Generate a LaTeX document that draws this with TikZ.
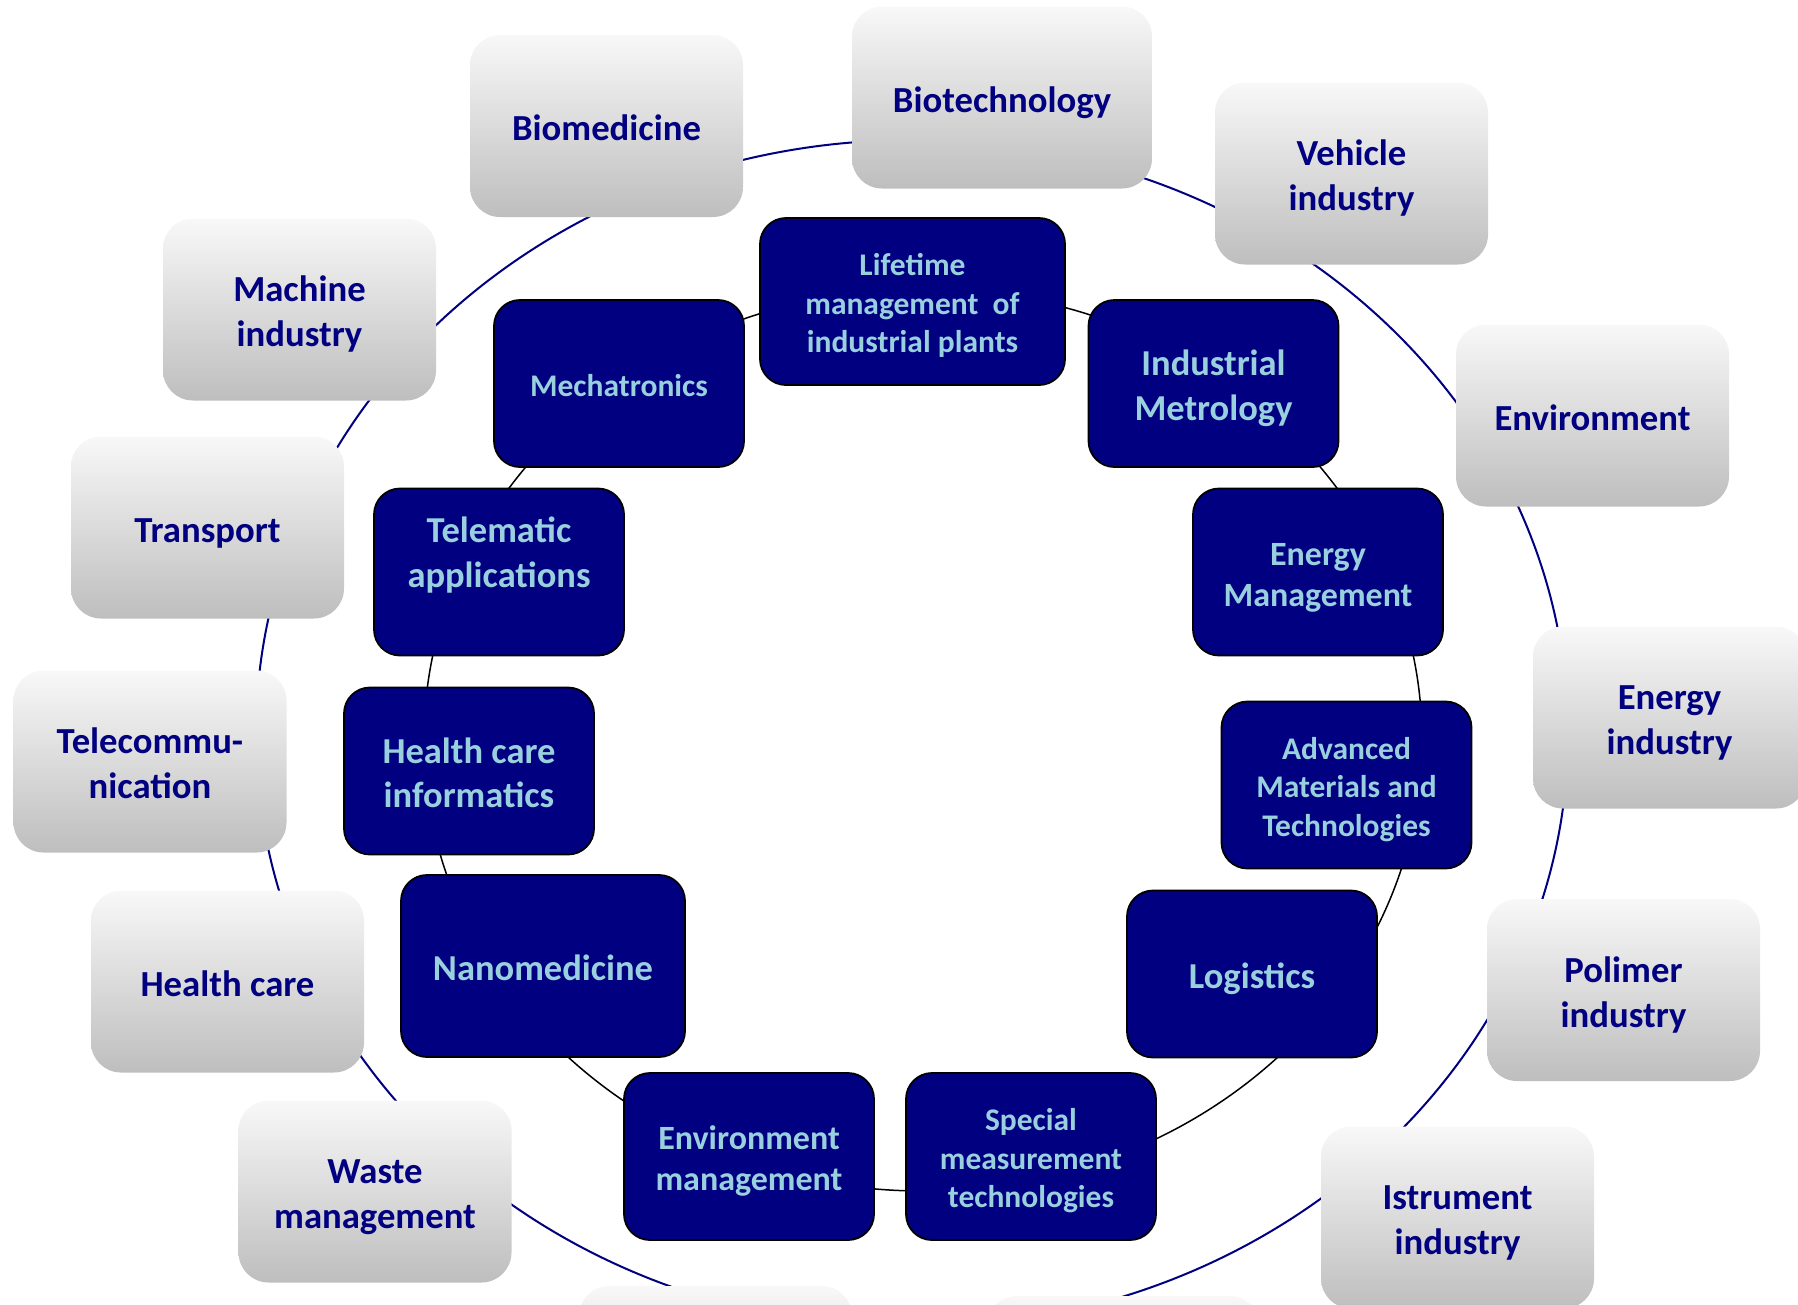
\documentclass[tikz,border=0pt]{standalone}
\usepackage{fontspec}
\setmainfont{Carlito}
\definecolor{navyblue}{RGB}{0,0,128}
\definecolor{paleblue}{RGB}{153,208,222}
\definecolor{greytop}{RGB}{248,248,248}
\definecolor{greybot}{RGB}{190,190,190}
\begin{document}
\begin{tikzpicture}[x=1pt, y=-1pt,
 block/.code args = {#1/#2/#3}{%
      \pgfmathsetlengthmacro\blockht{1.07*#1+(#3-1)*#2}%
      \pgfmathsetlengthmacro\blockdp{0.269*#1}%
      \tikzset{text height=\blockht, text depth=\blockdp}},
 field/.style = {%
      rounded corners=30pt, top color=greytop, bottom color=greybot,
      minimum width=273pt, minimum height=182pt, text=navyblue,
      align=center, font=\fontsize{36.7}{44.8}\selectfont\bfseries,
      block=36.7/44.8/#1},
 field/.default = 2,
 skill/.style args = {#1/#2/#3}{%
      rounded corners=26pt, draw=black, line width=1.8pt, fill=navyblue,
      text=paleblue, minimum width=250pt, minimum height=167pt,
      align=center, font=\fontsize{#1}{#2}\selectfont\bfseries,
      block=#1/#2/#3}
                    ]
\useasboundingbox (0,0) rectangle (1798,1304);
\coordinate (outerhub) at (912,734);
\coordinate (innerhub) at (923,740);
\draw[navyblue, line width=2pt] (outerhub) ellipse [x radius=656pt, y radius=594pt];
\draw[black, line width=1.5pt] (innerhub) ellipse [x radius=499pt, y radius=451pt];
%
\node(biotech)  [field=1, minimum width=300pt] at (1002,97.5) {Biotechnology};
\node(biomed)   [field=1] at (606.5,126)   {Biomedicine};
\node(vehicle)  [field] at (1351.5,173.5)  {Vehicle\\industry};
\node(machine)  [field] at (299.5,309.5)   {Machine\\industry};
\node(environ)  [field=1] at (1592.5,415.5) {Environment};
\node(transp)   [field=1] at (207.5,527.5) {Transport};
\node(energyind)[field] at (1669.5,717.5)  {Energy\\industry};
\node(telecom)  [field] at (150,761.5)     {Telecommu-\\nication};
\node(polimer)  [field] at (1623.5,990)    {Polimer\\industry};
\node(health)   [field=1] at (227.5,981.5) {Health care};
\node(istrum)   [field] at (1457.5,1217.5) {Istrument\\industry};
\node(waste)    [field] at (375,1191.5)    {Waste\\management};
\node(blankA)   [field=1] at (715.5,1377)  {};
\node(blankB)   [field=1] at (1123.5,1387) {};
%
\node(lifetime) [skill=31.5/38.4/3, minimum width=305pt] at (912.5,301.5)
      {Lifetime\\management\ \ of\\industrial plants};
\node(mechatr)  [skill=31.5/38.4/1] at (619,383.5)    {Mechatronics};
\node(metrol)   [skill=36.5/44.5/2] at (1213.5,383.5) {Industrial\\Metrology};
\node(telemat)  [skill=36.5/44.5/2, text depth=53pt] at (499,572) {Telematic\\applications};
\node(energymg) [skill=34/41/2]     at (1318,572)     {Energy\\Management};
\node(hcinfo)   [skill=36.5/44.5/2] at (469,771)      {Health care\\informatics};
\node(advmat)   [skill=31.5/38.4/3] at (1346.5,785)   {Advanced\\Materials and\\Technologies};
\node(nanomed)  [skill=36.5/44.5/1, minimum width=284pt, minimum height=182pt] at (543,966) {Nanomedicine};
\node(logist)   [skill=36.5/44.5/1] at (1252,974)     {Logistics};
\node(envmgmt)  [skill=34/41/2]     at (749,1156.5)   {Environment\\management};
\node(special)  [skill=31.5/38.4/3] at (1031,1156.5)  {Special\\measurement\\technologies};
\end{tikzpicture}
\end{document}
